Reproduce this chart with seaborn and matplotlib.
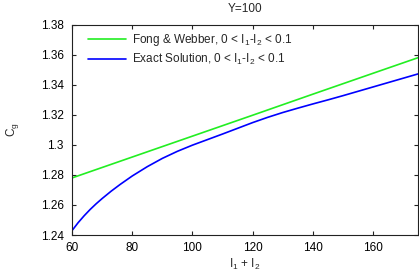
import numpy as np
import pandas as pd
import matplotlib
matplotlib.use("Agg")
import matplotlib.pyplot as plt
import seaborn as sns

sns.set_style("ticks")
plt.rcParams['font.family'] = ['Liberation Sans', 'DejaVu Sans']
plt.rcParams['mathtext.fontset'] = 'custom'
plt.rcParams['mathtext.rm'] = 'Liberation Sans'
plt.rcParams['mathtext.it'] = 'Liberation Sans'

# values
fw_x = [60, 80, 100, 120, 140, 160, 175]
fw_y = [1.278, 1.2919, 1.3058, 1.3197, 1.3337, 1.3476, 1.358]

ex_x = [60, 62, 64, 66, 68, 70, 73, 76, 80, 85, 90, 95, 100, 105, 110, 115,
        120, 125, 130, 135, 140, 145, 150, 155, 160, 165, 170, 175]
ex_y = [1.243, 1.2482, 1.2528, 1.257, 1.2608, 1.2643, 1.2692, 1.2737, 1.2793,
        1.2855, 1.291, 1.2957, 1.2998, 1.3035, 1.3072, 1.311, 1.3148, 1.3183,
        1.3215, 1.3244, 1.3272, 1.3299, 1.3327, 1.3356, 1.3385, 1.3414,
        1.3443, 1.3472]

lab_fw = r"Fong & Webber, 0 < $\mathrm{I_1}$-$\mathrm{I_2}$ < 0.1"
lab_ex = r"Exact Solution, 0 < $\mathrm{I_1}$-$\mathrm{I_2}$ < 0.1"

df = pd.concat([
    pd.DataFrame({'x': fw_x, 'y': fw_y, 'series': lab_fw}),
    pd.DataFrame({'x': ex_x, 'y': ex_y, 'series': lab_ex}),
])

fig = plt.figure(figsize=(4.19, 2.73), dpi=100)
ax = fig.add_axes([0.172, 0.139, 0.826, 0.771])

sns.lineplot(data=df, x='x', y='y', hue='series',
             palette={lab_fw: '#22ee22', lab_ex: '#0000ff'},
             linewidth=1.2, ax=ax)

ax.set_xlim(60, 175)
ax.set_ylim(1.24, 1.38)
ax.set_xticks([60, 80, 100, 120, 140, 160])
ax.set_yticks([1.24, 1.26, 1.28, 1.30, 1.32, 1.34, 1.36, 1.38])
ax.set_yticklabels(['%g' % v for v in ax.get_yticks()])
ax.tick_params(direction='in', top=True, right=True, labelsize=8.5,
               length=3, width=0.8, colors='#222222', labelcolor='black')
ax.tick_params(axis='y', pad=6)
ax.tick_params(axis='x', pad=5)
for s in ax.spines.values():
    s.set_linewidth(0.8)
    s.set_color('#222222')

ax.set_xlabel(r"$\mathrm{I_1}$ + $\mathrm{I_2}$", fontsize=8.5, labelpad=2)
ax.set_ylabel(r"$\mathrm{C_g}$", fontsize=8.5, labelpad=14)
ax.set_title("Y=100", fontsize=8.5, pad=9)

ax.legend(title=None, loc='upper left', frameon=False, fontsize=8.5,
          handlelength=3.2, bbox_to_anchor=(0.025, 1.0), borderaxespad=0.25,
          labelspacing=0.3, handletextpad=0.5)

fig.savefig("out.png", dpi=100)
